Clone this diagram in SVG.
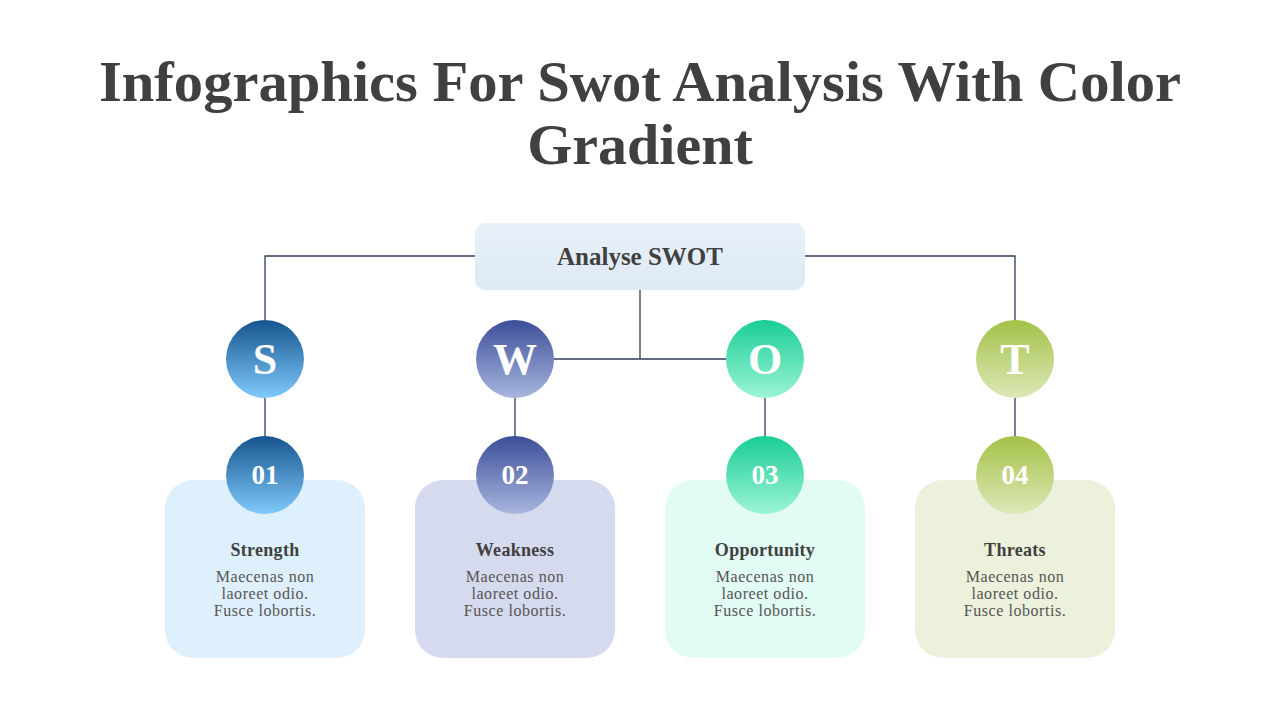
<svg xmlns="http://www.w3.org/2000/svg" width="1280" height="720" viewBox="0 0 1280 720">
<defs>
<linearGradient id="gTop" x1="0" y1="0" x2="0" y2="1"><stop offset="0" stop-color="#e9f1f9"/><stop offset="1" stop-color="#dde9f4"/></linearGradient>
<linearGradient id="gS" x1="0" y1="0" x2="0" y2="1"><stop offset="0" stop-color="#15558d"/><stop offset="1" stop-color="#80cafd"/></linearGradient>
<linearGradient id="gW" x1="0" y1="0" x2="0" y2="1"><stop offset="0" stop-color="#3c4e9a"/><stop offset="1" stop-color="#a8b6de"/></linearGradient>
<linearGradient id="gO" x1="0" y1="0" x2="0" y2="1"><stop offset="0" stop-color="#1acd96"/><stop offset="1" stop-color="#9cf4d7"/></linearGradient>
<linearGradient id="gT" x1="0" y1="0" x2="0" y2="1"><stop offset="0" stop-color="#a4c148"/><stop offset="1" stop-color="#dce8b8"/></linearGradient>
<style>
.title{font-family:"Liberation Serif","DejaVu Serif",serif;font-weight:bold;font-size:58px;fill:#404040;text-anchor:middle}
.head{font-family:"Liberation Serif","DejaVu Serif",serif;font-weight:bold;font-size:25px;fill:#404040;text-anchor:middle}
.letter{font-family:"Liberation Serif","DejaVu Serif",serif;font-weight:bold;font-size:44px;fill:#ffffff;text-anchor:middle}
.num{font-family:"Liberation Serif","DejaVu Serif",serif;font-weight:bold;font-size:27px;fill:#ffffff;text-anchor:middle}
.lbl{font-family:"Liberation Serif","DejaVu Serif",serif;font-weight:bold;font-size:18px;letter-spacing:0.3px;fill:#404040;text-anchor:middle}
.body{font-family:"Liberation Serif","DejaVu Serif",serif;font-size:16px;letter-spacing:0.55px;fill:#555555;text-anchor:middle}
.ln{stroke:#2f3d5a;stroke-width:1.3;fill:none}
</style>
</defs>
<rect width="1280" height="720" fill="#ffffff"/>
<g id="title">
<text class="title" x="640" y="101" textLength="1082" lengthAdjust="spacingAndGlyphs">Infographics For Swot Analysis With Color</text>
<text class="title" x="640" y="164">Gradient</text>
</g>
<g id="connectors">
<polyline class="ln" points="475,256 265,256 265,320"/>
<polyline class="ln" points="805,256 1015,256 1015,320"/>
<line class="ln" x1="640" y1="290" x2="640" y2="359"/>
<line class="ln" x1="554" y1="359" x2="726" y2="359"/>
<line class="ln" x1="265" y1="398" x2="265" y2="436"/>
<line class="ln" x1="515" y1="398" x2="515" y2="436"/>
<line class="ln" x1="765" y1="398" x2="765" y2="436"/>
<line class="ln" x1="1015" y1="398" x2="1015" y2="436"/>
</g>
<g id="root">
<rect x="475" y="223" width="330" height="67" rx="10" fill="url(#gTop)"/>
<text class="head" x="640" y="265">Analyse SWOT</text>
</g>
<g id="node-s">
<circle cx="265" cy="359" r="39" fill="url(#gS)"/>
<text class="letter" x="265" y="374">S</text>
</g>
<g id="node-w">
<circle cx="515" cy="359" r="39" fill="url(#gW)"/>
<text class="letter" x="515" y="374">W</text>
</g>
<g id="node-o">
<circle cx="765" cy="359" r="39" fill="url(#gO)"/>
<text class="letter" x="765" y="374">O</text>
</g>
<g id="node-t">
<circle cx="1015" cy="359" r="39" fill="url(#gT)"/>
<text class="letter" x="1015" y="374">T</text>
</g>
<g id="card-01">
<rect x="165" y="480" width="200" height="178" rx="28" fill="#dff0fd"/>
<circle cx="265" cy="475" r="39" fill="url(#gS)"/>
<text class="num" x="265" y="484">01</text>
<text class="lbl" x="265" y="556">Strength</text>
<text class="body" x="265" y="582">Maecenas non</text>
<text class="body" x="265" y="599">laoreet odio.</text>
<text class="body" x="265" y="616">Fusce lobortis.</text>
</g>
<g id="card-02">
<rect x="415" y="480" width="200" height="178" rx="28" fill="#d5daee"/>
<circle cx="515" cy="475" r="39" fill="url(#gW)"/>
<text class="num" x="515" y="484">02</text>
<text class="lbl" x="515" y="556">Weakness</text>
<text class="body" x="515" y="582">Maecenas non</text>
<text class="body" x="515" y="599">laoreet odio.</text>
<text class="body" x="515" y="616">Fusce lobortis.</text>
</g>
<g id="card-03">
<rect x="665" y="480" width="200" height="178" rx="28" fill="#e2fbf4"/>
<circle cx="765" cy="475" r="39" fill="url(#gO)"/>
<text class="num" x="765" y="484">03</text>
<text class="lbl" x="765" y="556">Opportunity</text>
<text class="body" x="765" y="582">Maecenas non</text>
<text class="body" x="765" y="599">laoreet odio.</text>
<text class="body" x="765" y="616">Fusce lobortis.</text>
</g>
<g id="card-04">
<rect x="915" y="480" width="200" height="178" rx="28" fill="#ecf1dc"/>
<circle cx="1015" cy="475" r="39" fill="url(#gT)"/>
<text class="num" x="1015" y="484">04</text>
<text class="lbl" x="1015" y="556">Threats</text>
<text class="body" x="1015" y="582">Maecenas non</text>
<text class="body" x="1015" y="599">laoreet odio.</text>
<text class="body" x="1015" y="616">Fusce lobortis.</text>
</g>
</svg>
